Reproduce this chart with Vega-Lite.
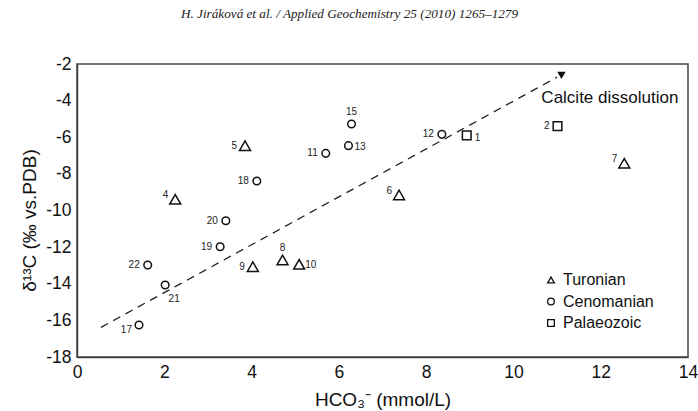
{
  "$schema": "https://vega.github.io/schema/vega-lite/v6.json",
  "width": 611,
  "height": 293,
  "autosize": "none",
  "padding": {"left": 77, "top": 64, "right": 10, "bottom": 54},
  "background": "white",
  "title": {
    "text": "H. Jiráková et al. / Applied Geochemistry 25 (2010) 1265–1279",
    "font": "Liberation Serif",
    "fontStyle": "italic",
    "fontWeight": "normal",
    "fontSize": 13.2,
    "color": "#222",
    "anchor": "middle",
    "dx": -33,
    "offset": 34
  },
  "config": {
    "view": {"stroke": "#444", "strokeWidth": 1.5},
    "font": "Liberation Sans",
    "axis": {
      "ticks": false,
      "grid": false,
      "domainColor": "#444",
      "domainWidth": 1.5,
      "labelFont": "Liberation Sans",
      "labelFontSize": 17.5,
      "labelColor": "#111",
      "labelPadding": 6,
      "labelFlush": false,
      "labelOverlap": false,
      "titleFont": "Liberation Sans",
      "titleFontSize": 19,
      "titleFontWeight": "normal",
      "titleColor": "#111"
    }
  },
  "datasets": {
    "pts": [
      {"id": "1", "group": "Palaeozoic", "hco3": 8.93, "d13c": -5.9, "pos": "RB"},
      {"id": "2", "group": "Palaeozoic", "hco3": 11.01, "d13c": -5.39, "pos": "L"},
      {"id": "4", "group": "Turonian", "hco3": 2.25, "d13c": -9.39, "pos": "UL"},
      {"id": "5", "group": "Turonian", "hco3": 3.85, "d13c": -6.46, "pos": "L"},
      {"id": "6", "group": "Turonian", "hco3": 7.38, "d13c": -9.15, "pos": "UL"},
      {"id": "7", "group": "Turonian", "hco3": 12.54, "d13c": -7.42, "pos": "UL"},
      {"id": "8", "group": "Turonian", "hco3": 4.71, "d13c": -12.7, "pos": "T"},
      {"id": "9", "group": "Turonian", "hco3": 4.03, "d13c": -13.07, "pos": "L"},
      {"id": "10", "group": "Turonian", "hco3": 5.09, "d13c": -12.94, "pos": "R"},
      {"id": "11", "group": "Cenomanian", "hco3": 5.7, "d13c": -6.88, "pos": "L"},
      {"id": "12", "group": "Cenomanian", "hco3": 8.36, "d13c": -5.84, "pos": "L"},
      {"id": "13", "group": "Cenomanian", "hco3": 6.22, "d13c": -6.46, "pos": "R"},
      {"id": "15", "group": "Cenomanian", "hco3": 6.29, "d13c": -5.28, "pos": "T"},
      {"id": "17", "group": "Cenomanian", "hco3": 1.42, "d13c": -16.25, "pos": "BL"},
      {"id": "18", "group": "Cenomanian", "hco3": 4.12, "d13c": -8.39, "pos": "L"},
      {"id": "19", "group": "Cenomanian", "hco3": 3.28, "d13c": -11.98, "pos": "L"},
      {"id": "20", "group": "Cenomanian", "hco3": 3.41, "d13c": -10.56, "pos": "L"},
      {"id": "21", "group": "Cenomanian", "hco3": 2.02, "d13c": -14.07, "pos": "BR"},
      {"id": "22", "group": "Cenomanian", "hco3": 1.62, "d13c": -12.98, "pos": "L"}
    ],
    "trend": [
      {"hco3": 0.55, "d13c": -16.38},
      {"hco3": 11.0, "d13c": -2.72}
    ],
    "arrow": [
      {"hco3": 11.1, "d13c": -2.62}
    ],
    "note": [
      {"hco3": 10.64, "d13c": -3.84, "label": "Calcite dissolution"}
    ]
  },
  "encoding": {
    "x": {
      "field": "hco3",
      "type": "quantitative",
      "scale": {"domain": [0, 14], "nice": false, "zero": false},
      "axis": {"values": [0, 2, 4, 6, 8, 10, 12, 14], "title": "HCO₃⁻ (mmol/L)", "titlePadding": 10}
    },
    "y": {
      "field": "d13c",
      "type": "quantitative",
      "scale": {"domain": [-18, -2], "nice": false, "zero": false},
      "axis": {
        "values": [-18, -16, -14, -12, -10, -8, -6, -4, -2],
        "labelExpr": "datum.value < 0 ? '-' + abs(datum.value) : '' + datum.value",
        "title": "δ¹³C (‰ vs.PDB)",
        "titlePadding": 6,
        "titleY": 156
      }
    }
  },
  "layer": [
    {
      "data": {"name": "trend"},
      "mark": {"type": "line", "color": "#222", "strokeWidth": 1.3, "strokeDash": [8, 6]}
    },
    {
      "data": {"name": "arrow"},
      "mark": {"type": "point", "shape": "triangle-down", "filled": true, "color": "#111", "size": 70, "opacity": 1}
    },
    {
      "data": {"name": "pts"},
      "mark": {"type": "point", "filled": false, "color": "#111", "strokeWidth": 1.5, "opacity": 1},
      "encoding": {
        "shape": {
          "field": "group",
          "type": "nominal",
          "scale": {"domain": ["Turonian", "Cenomanian", "Palaeozoic"], "range": ["triangle-up", "circle", "square"]},
          "legend": {
            "orient": "none",
            "legendX": 466,
            "legendY": 208,
            "title": null,
            "padding": 0,
            "labelFont": "Liberation Sans",
            "labelFontSize": 16,
            "labelColor": "#111",
            "labelOffset": 4,
            "symbolSize": 45,
            "symbolStrokeWidth": 1.3,
            "symbolStrokeColor": "#111",
            "symbolFillColor": "transparent",
            "rowPadding": 5.5
          }
        },
        "size": {
          "condition": [
            {"test": "datum.group === 'Turonian'", "value": 120},
            {"test": "datum.group === 'Palaeozoic'", "value": 75}
          ],
          "value": 58
        }
      }
    },
    {
      "data": {"name": "pts"},
      "transform": [{"filter": "datum.pos === 'L'"}],
      "mark": {"type": "text", "align": "right", "baseline": "middle", "dx": -8, "fontSize": 10, "color": "#222"},
      "encoding": {"text": {"field": "id"}}
    },
    {
      "data": {"name": "pts"},
      "transform": [{"filter": "datum.pos === 'R'"}],
      "mark": {"type": "text", "align": "left", "baseline": "middle", "dx": 6, "dy": 1, "fontSize": 10, "color": "#222"},
      "encoding": {"text": {"field": "id"}}
    },
    {
      "data": {"name": "pts"},
      "transform": [{"filter": "datum.pos === 'RB'"}],
      "mark": {"type": "text", "align": "left", "baseline": "middle", "dx": 8, "dy": 3, "fontSize": 10, "color": "#222"},
      "encoding": {"text": {"field": "id"}}
    },
    {
      "data": {"name": "pts"},
      "transform": [{"filter": "datum.pos === 'T'"}],
      "mark": {"type": "text", "align": "center", "baseline": "bottom", "dy": -7, "fontSize": 10, "color": "#222"},
      "encoding": {"text": {"field": "id"}}
    },
    {
      "data": {"name": "pts"},
      "transform": [{"filter": "datum.pos === 'UL'"}],
      "mark": {"type": "text", "align": "right", "baseline": "middle", "dx": -7, "dy": -4, "fontSize": 10, "color": "#222"},
      "encoding": {"text": {"field": "id"}}
    },
    {
      "data": {"name": "pts"},
      "transform": [{"filter": "datum.pos === 'BR'"}],
      "mark": {"type": "text", "align": "center", "baseline": "middle", "dx": 9, "dy": 14, "fontSize": 10, "color": "#222"},
      "encoding": {"text": {"field": "id"}}
    },
    {
      "data": {"name": "pts"},
      "transform": [{"filter": "datum.pos === 'BL'"}],
      "mark": {"type": "text", "align": "right", "baseline": "middle", "dx": -7, "dy": 5, "fontSize": 10, "color": "#222"},
      "encoding": {"text": {"field": "id"}}
    },
    {
      "data": {"name": "note"},
      "mark": {"type": "text", "align": "left", "baseline": "middle", "fontSize": 17, "color": "#111"},
      "encoding": {"text": {"field": "label"}}
    }
  ]
}
